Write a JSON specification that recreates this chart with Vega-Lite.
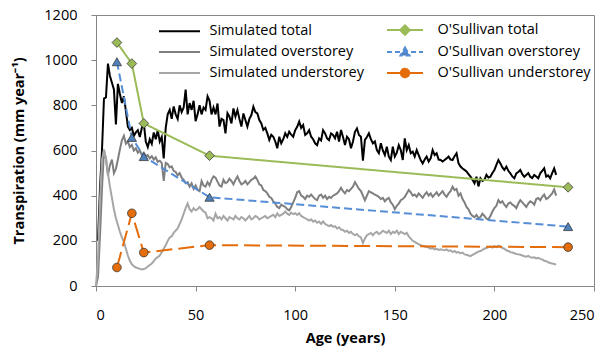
{
  "$schema": "https://vega.github.io/schema/vega-lite/v6.json",
  "width": 498,
  "height": 271,
  "autosize": {"type": "none"},
  "padding": {"left": 96, "top": 15, "right": 11, "bottom": 66},
  "background": "white",
  "config": {
    "font": "Open Sans",
    "view": {"stroke": "#868686", "strokeWidth": 1},
    "axis": {"grid": false, "domainColor": "#868686", "tickColor": "#868686", "tickSize": 5, "labelFont": "Open Sans", "labelFontSize": 14.5, "labelColor": "#000000", "titleFont": "Open Sans", "titleFontSize": 14.5, "titleFontWeight": "bold", "titleColor": "#000000"}
  },
  "datasets": {
    "sim": [
      {"age":0,"sim_over":0,"sim_under":0},
      {"age":1,"sim_total":200,"sim_over":40,"sim_under":120},
      {"age":2,"sim_total":430,"sim_over":220,"sim_under":380},
      {"age":3,"sim_total":600,"sim_over":430,"sim_under":560},
      {"age":4,"sim_total":830,"sim_over":600,"sim_under":605},
      {"age":5,"sim_total":835,"sim_over":565,"sim_under":560},
      {"age":6,"sim_total":985,"sim_over":490,"sim_under":500},
      {"age":7,"sim_total":930,"sim_over":535,"sim_under":440},
      {"age":8,"sim_total":900,"sim_over":560,"sim_under":390},
      {"age":9,"sim_total":870,"sim_over":500,"sim_under":340},
      {"age":10,"sim_total":715,"sim_over":520,"sim_under":300},
      {"age":11,"sim_total":895,"sim_over":560,"sim_under":270},
      {"age":12,"sim_total":850,"sim_over":605,"sim_under":240},
      {"age":13,"sim_total":810,"sim_over":645,"sim_under":215},
      {"age":14,"sim_total":840,"sim_over":665,"sim_under":195},
      {"age":15,"sim_total":775,"sim_over":630,"sim_under":165},
      {"age":16,"sim_total":705,"sim_over":640,"sim_under":135},
      {"age":17,"sim_total":690,"sim_over":615,"sim_under":112},
      {"age":18,"sim_total":700,"sim_over":625,"sim_under":96},
      {"age":19,"sim_total":665,"sim_over":600,"sim_under":88},
      {"age":20,"sim_total":680,"sim_over":610,"sim_under":82},
      {"age":21,"sim_total":690,"sim_over":590,"sim_under":79},
      {"age":22,"sim_total":660,"sim_over":600,"sim_under":76},
      {"age":23,"sim_total":700,"sim_over":580,"sim_under":73},
      {"age":24,"sim_total":720,"sim_over":590,"sim_under":75},
      {"age":25,"sim_total":640,"sim_over":575,"sim_under":79},
      {"age":26,"sim_total":615,"sim_over":580,"sim_under":86},
      {"age":27,"sim_total":650,"sim_over":565,"sim_under":93},
      {"age":28,"sim_total":630,"sim_over":575,"sim_under":100},
      {"age":29,"sim_total":680,"sim_over":560,"sim_under":110},
      {"age":30,"sim_total":650,"sim_over":570,"sim_under":122},
      {"age":31,"sim_total":690,"sim_over":550,"sim_under":128},
      {"age":32,"sim_total":640,"sim_over":555,"sim_under":135},
      {"age":33,"sim_total":660,"sim_over":545,"sim_under":150},
      {"age":34,"sim_total":565,"sim_over":465,"sim_under":165},
      {"age":35,"sim_total":700,"sim_over":545,"sim_under":180},
      {"age":36,"sim_total":760,"sim_over":540,"sim_under":200},
      {"age":37,"sim_total":780,"sim_over":525,"sim_under":215},
      {"age":38,"sim_total":740,"sim_over":530,"sim_under":220},
      {"age":39,"sim_total":795,"sim_over":510,"sim_under":235},
      {"age":40,"sim_total":760,"sim_over":505,"sim_under":245},
      {"age":41,"sim_total":740,"sim_over":490,"sim_under":255},
      {"age":42,"sim_total":800,"sim_over":500,"sim_under":275},
      {"age":43,"sim_total":770,"sim_over":480,"sim_under":295},
      {"age":44,"sim_total":790,"sim_over":470,"sim_under":320},
      {"age":45,"sim_total":870,"sim_over":455,"sim_under":345},
      {"age":46,"sim_total":760,"sim_over":460,"sim_under":365},
      {"age":47,"sim_total":810,"sim_over":440,"sim_under":340},
      {"age":48,"sim_total":780,"sim_over":455,"sim_under":330},
      {"age":49,"sim_total":820,"sim_over":430,"sim_under":345},
      {"age":50,"sim_total":730,"sim_over":445,"sim_under":335},
      {"age":51,"sim_total":760,"sim_over":425,"sim_under":340},
      {"age":52,"sim_total":800,"sim_over":420,"sim_under":350},
      {"age":53,"sim_total":760,"sim_over":465,"sim_under":340},
      {"age":54,"sim_total":790,"sim_over":445,"sim_under":330},
      {"age":55,"sim_total":780,"sim_over":440,"sim_under":325},
      {"age":56,"sim_total":840,"sim_over":460,"sim_under":300},
      {"age":57,"sim_total":820,"sim_over":445,"sim_under":305},
      {"age":58,"sim_total":760,"sim_over":470,"sim_under":300},
      {"age":59,"sim_total":790,"sim_over":485,"sim_under":290},
      {"age":60,"sim_total":760,"sim_over":480,"sim_under":320},
      {"age":61,"sim_total":808,"sim_over":462,"sim_under":300},
      {"age":62,"sim_total":706,"sim_over":445,"sim_under":305},
      {"age":63,"sim_total":740,"sim_over":440,"sim_under":295},
      {"age":64,"sim_total":735,"sim_over":470,"sim_under":310},
      {"age":65,"sim_total":676,"sim_over":455,"sim_under":300},
      {"age":66,"sim_total":765,"sim_over":460,"sim_under":290},
      {"age":67,"sim_total":750,"sim_over":475,"sim_under":305},
      {"age":68,"sim_total":720,"sim_over":465,"sim_under":300},
      {"age":69,"sim_total":786,"sim_over":450,"sim_under":295},
      {"age":70,"sim_total":750,"sim_over":470,"sim_under":310},
      {"age":71,"sim_total":779,"sim_over":485,"sim_under":300},
      {"age":72,"sim_total":740,"sim_over":465,"sim_under":295},
      {"age":73,"sim_total":706,"sim_over":450,"sim_under":305},
      {"age":74,"sim_total":764,"sim_over":455,"sim_under":300},
      {"age":75,"sim_total":735,"sim_over":465,"sim_under":290},
      {"age":76,"sim_total":706,"sim_over":450,"sim_under":300},
      {"age":77,"sim_total":740,"sim_over":460,"sim_under":310},
      {"age":78,"sim_total":757,"sim_over":470,"sim_under":295},
      {"age":79,"sim_total":794,"sim_over":475,"sim_under":300},
      {"age":80,"sim_total":770,"sim_over":485,"sim_under":310},
      {"age":81,"sim_total":764,"sim_over":470,"sim_under":305},
      {"age":82,"sim_total":735,"sim_over":450,"sim_under":295},
      {"age":83,"sim_total":720,"sim_over":445,"sim_under":300},
      {"age":84,"sim_total":691,"sim_over":425,"sim_under":305},
      {"age":85,"sim_total":700,"sim_over":420,"sim_under":310},
      {"age":86,"sim_total":676,"sim_over":410,"sim_under":300},
      {"age":87,"sim_total":647,"sim_over":395,"sim_under":305},
      {"age":88,"sim_total":670,"sim_over":390,"sim_under":310},
      {"age":89,"sim_total":661,"sim_over":375,"sim_under":315},
      {"age":90,"sim_total":640,"sim_over":365,"sim_under":305},
      {"age":91,"sim_total":610,"sim_over":350,"sim_under":322},
      {"age":92,"sim_total":661,"sim_over":345,"sim_under":310},
      {"age":93,"sim_total":632,"sim_over":360,"sim_under":315},
      {"age":94,"sim_total":650,"sim_over":355,"sim_under":320},
      {"age":95,"sim_total":676,"sim_over":350,"sim_under":330},
      {"age":96,"sim_total":660,"sim_over":340,"sim_under":320},
      {"age":97,"sim_total":683,"sim_over":335,"sim_under":315},
      {"age":98,"sim_total":670,"sim_over":350,"sim_under":325},
      {"age":99,"sim_total":661,"sim_over":370,"sim_under":318},
      {"age":100,"sim_total":690,"sim_over":390,"sim_under":322},
      {"age":101,"sim_total":705,"sim_over":415,"sim_under":315},
      {"age":102,"sim_total":728,"sim_over":420,"sim_under":322},
      {"age":103,"sim_total":700,"sim_over":400,"sim_under":310},
      {"age":104,"sim_total":713,"sim_over":395,"sim_under":305},
      {"age":105,"sim_total":669,"sim_over":385,"sim_under":300},
      {"age":106,"sim_total":676,"sim_over":400,"sim_under":295},
      {"age":107,"sim_total":690,"sim_over":395,"sim_under":290},
      {"age":108,"sim_total":661,"sim_over":405,"sim_under":295},
      {"age":109,"sim_total":650,"sim_over":395,"sim_under":285},
      {"age":110,"sim_total":632,"sim_over":385,"sim_under":290},
      {"age":111,"sim_total":624,"sim_over":380,"sim_under":280},
      {"age":112,"sim_total":654,"sim_over":400,"sim_under":285},
      {"age":113,"sim_total":645,"sim_over":405,"sim_under":275},
      {"age":114,"sim_total":690,"sim_over":390,"sim_under":286},
      {"age":115,"sim_total":676,"sim_over":400,"sim_under":275},
      {"age":116,"sim_total":654,"sim_over":385,"sim_under":270},
      {"age":117,"sim_total":646,"sim_over":395,"sim_under":265},
      {"age":118,"sim_total":676,"sim_over":390,"sim_under":270},
      {"age":119,"sim_total":669,"sim_over":400,"sim_under":262},
      {"age":120,"sim_total":654,"sim_over":405,"sim_under":265},
      {"age":121,"sim_total":683,"sim_over":410,"sim_under":255},
      {"age":122,"sim_total":640,"sim_over":420,"sim_under":260},
      {"age":123,"sim_total":691,"sim_over":435,"sim_under":250},
      {"age":124,"sim_total":660,"sim_over":420,"sim_under":248},
      {"age":125,"sim_total":624,"sim_over":410,"sim_under":240},
      {"age":126,"sim_total":661,"sim_over":425,"sim_under":245},
      {"age":127,"sim_total":650,"sim_over":420,"sim_under":235},
      {"age":128,"sim_total":610,"sim_over":430,"sim_under":240},
      {"age":129,"sim_total":640,"sim_over":440,"sim_under":230},
      {"age":130,"sim_total":683,"sim_over":460,"sim_under":225},
      {"age":131,"sim_total":698,"sim_over":445,"sim_under":230},
      {"age":132,"sim_total":669,"sim_over":430,"sim_under":220},
      {"age":133,"sim_total":661,"sim_over":420,"sim_under":215},
      {"age":134,"sim_total":555,"sim_over":400,"sim_under":190},
      {"age":135,"sim_total":647,"sim_over":380,"sim_under":210},
      {"age":136,"sim_total":660,"sim_over":400,"sim_under":225},
      {"age":137,"sim_total":676,"sim_over":420,"sim_under":230},
      {"age":138,"sim_total":650,"sim_over":415,"sim_under":235},
      {"age":139,"sim_total":632,"sim_over":410,"sim_under":225},
      {"age":140,"sim_total":640,"sim_over":405,"sim_under":235},
      {"age":141,"sim_total":602,"sim_over":400,"sim_under":240},
      {"age":142,"sim_total":588,"sim_over":395,"sim_under":230},
      {"age":143,"sim_total":632,"sim_over":385,"sim_under":235},
      {"age":144,"sim_total":600,"sim_over":390,"sim_under":245},
      {"age":145,"sim_total":580,"sim_over":375,"sim_under":240},
      {"age":146,"sim_total":617,"sim_over":385,"sim_under":235},
      {"age":147,"sim_total":573,"sim_over":390,"sim_under":245},
      {"age":148,"sim_total":558,"sim_over":370,"sim_under":230},
      {"age":149,"sim_total":617,"sim_over":360,"sim_under":240},
      {"age":150,"sim_total":573,"sim_over":340,"sim_under":235},
      {"age":151,"sim_total":590,"sim_over":355,"sim_under":245},
      {"age":152,"sim_total":624,"sim_over":365,"sim_under":230},
      {"age":153,"sim_total":602,"sim_over":380,"sim_under":240},
      {"age":154,"sim_total":558,"sim_over":385,"sim_under":235},
      {"age":155,"sim_total":654,"sim_over":395,"sim_under":230},
      {"age":156,"sim_total":602,"sim_over":410,"sim_under":235},
      {"age":157,"sim_total":624,"sim_over":425,"sim_under":220},
      {"age":158,"sim_total":588,"sim_over":415,"sim_under":210},
      {"age":159,"sim_total":595,"sim_over":400,"sim_under":200},
      {"age":160,"sim_total":573,"sim_over":405,"sim_under":195},
      {"age":161,"sim_total":602,"sim_over":395,"sim_under":190},
      {"age":162,"sim_total":580,"sim_over":410,"sim_under":185},
      {"age":163,"sim_total":558,"sim_over":400,"sim_under":180},
      {"age":164,"sim_total":543,"sim_over":390,"sim_under":178},
      {"age":165,"sim_total":560,"sim_over":405,"sim_under":175},
      {"age":166,"sim_total":573,"sim_over":415,"sim_under":172},
      {"age":167,"sim_total":551,"sim_over":400,"sim_under":170},
      {"age":168,"sim_total":565,"sim_over":410,"sim_under":165},
      {"age":169,"sim_total":602,"sim_over":395,"sim_under":168},
      {"age":170,"sim_total":580,"sim_over":405,"sim_under":162},
      {"age":171,"sim_total":588,"sim_over":415,"sim_under":165},
      {"age":172,"sim_total":560,"sim_over":400,"sim_under":160},
      {"age":173,"sim_total":558,"sim_over":410,"sim_under":163},
      {"age":174,"sim_total":551,"sim_over":420,"sim_under":160},
      {"age":175,"sim_total":558,"sim_over":405,"sim_under":158},
      {"age":176,"sim_total":565,"sim_over":395,"sim_under":162},
      {"age":177,"sim_total":573,"sim_over":410,"sim_under":155},
      {"age":178,"sim_total":560,"sim_over":420,"sim_under":158},
      {"age":179,"sim_total":558,"sim_over":440,"sim_under":150},
      {"age":180,"sim_total":575,"sim_over":425,"sim_under":155},
      {"age":181,"sim_total":588,"sim_over":430,"sim_under":148},
      {"age":182,"sim_total":543,"sim_over":400,"sim_under":150},
      {"age":183,"sim_total":529,"sim_over":410,"sim_under":145},
      {"age":184,"sim_total":520,"sim_over":385,"sim_under":148},
      {"age":185,"sim_total":514,"sim_over":370,"sim_under":140},
      {"age":186,"sim_total":507,"sim_over":350,"sim_under":138},
      {"age":187,"sim_total":495,"sim_over":340,"sim_under":135},
      {"age":188,"sim_total":484,"sim_over":320,"sim_under":132},
      {"age":189,"sim_total":470,"sim_over":310,"sim_under":138},
      {"age":190,"sim_total":455,"sim_over":305,"sim_under":142},
      {"age":191,"sim_total":484,"sim_over":315,"sim_under":148},
      {"age":192,"sim_total":441,"sim_over":300,"sim_under":152},
      {"age":193,"sim_total":477,"sim_over":305,"sim_under":155},
      {"age":194,"sim_total":465,"sim_over":320,"sim_under":160},
      {"age":195,"sim_total":470,"sim_over":310,"sim_under":165},
      {"age":196,"sim_total":492,"sim_over":298,"sim_under":168},
      {"age":197,"sim_total":480,"sim_over":295,"sim_under":172},
      {"age":198,"sim_total":484,"sim_over":310,"sim_under":175},
      {"age":199,"sim_total":500,"sim_over":330,"sim_under":170},
      {"age":200,"sim_total":514,"sim_over":345,"sim_under":176},
      {"age":201,"sim_total":536,"sim_over":355,"sim_under":172},
      {"age":202,"sim_total":558,"sim_over":380,"sim_under":178},
      {"age":203,"sim_total":543,"sim_over":368,"sim_under":175},
      {"age":204,"sim_total":525,"sim_over":375,"sim_under":168},
      {"age":205,"sim_total":514,"sim_over":360,"sim_under":165},
      {"age":206,"sim_total":529,"sim_over":350,"sim_under":158},
      {"age":207,"sim_total":510,"sim_over":365,"sim_under":155},
      {"age":208,"sim_total":499,"sim_over":370,"sim_under":150},
      {"age":209,"sim_total":485,"sim_over":360,"sim_under":148},
      {"age":210,"sim_total":477,"sim_over":355,"sim_under":145},
      {"age":211,"sim_total":499,"sim_over":345,"sim_under":142},
      {"age":212,"sim_total":505,"sim_over":365,"sim_under":140},
      {"age":213,"sim_total":514,"sim_over":380,"sim_under":138},
      {"age":214,"sim_total":495,"sim_over":370,"sim_under":135},
      {"age":215,"sim_total":484,"sim_over":360,"sim_under":132},
      {"age":216,"sim_total":492,"sim_over":350,"sim_under":130},
      {"age":217,"sim_total":500,"sim_over":365,"sim_under":133},
      {"age":218,"sim_total":484,"sim_over":375,"sim_under":128},
      {"age":219,"sim_total":478,"sim_over":370,"sim_under":125},
      {"age":220,"sim_total":492,"sim_over":360,"sim_under":127},
      {"age":221,"sim_total":485,"sim_over":385,"sim_under":122},
      {"age":222,"sim_total":477,"sim_over":390,"sim_under":125},
      {"age":223,"sim_total":499,"sim_over":380,"sim_under":120},
      {"age":224,"sim_total":510,"sim_over":395,"sim_under":118},
      {"age":225,"sim_total":521,"sim_over":405,"sim_under":112},
      {"age":226,"sim_total":484,"sim_over":385,"sim_under":110},
      {"age":227,"sim_total":490,"sim_over":390,"sim_under":105},
      {"age":228,"sim_total":477,"sim_over":400,"sim_under":102},
      {"age":229,"sim_total":500,"sim_over":410,"sim_under":100},
      {"age":230,"sim_total":521,"sim_over":428,"sim_under":97},
      {"age":231,"sim_total":492,"sim_over":400,"sim_under":95}
    ],
    "obs": [
      {"age":10.5,"os_total":1078,"os_over":993,"os_under":82},
      {"age":18,"os_total":985,"os_over":658,"os_under":322},
      {"age":24,"os_total":720,"os_over":573,"os_under":148},
      {"age":57,"os_total":577,"os_over":393,"os_under":181},
      {"age":237,"os_total":437,"os_over":263,"os_under":172}
    ]
  },
  "layer": [
    {
      "data": {"name": "sim"},
      "transform": [{"fold": ["sim_total", "sim_over", "sim_under"], "as": ["series", "value"]}],
      "mark": {"type": "line", "strokeWidth": 2, "interpolate": "linear"},
      "encoding": {
        "x": {"field": "age", "type": "quantitative", "scale": {"domain": [0, 250], "nice": false, "zero": false},
              "axis": {"values": [0, 50, 100, 150, 200, 250], "format": "d", "title": "Age (years)", "labelPadding": 17, "titlePadding": 10}},
        "y": {"field": "value", "type": "quantitative", "scale": {"domain": [0, 1200], "nice": false},
              "axis": {"values": [0, 200, 400, 600, 800, 1000, 1200], "format": "d", "title": "Transpiration (mm year⁻¹)", "labelPadding": 14, "titlePadding": 17}},
        "color": {
          "field": "series", "type": "nominal",
          "scale": {"domain": ["sim_total", "sim_over", "sim_under", "os_total", "os_over", "os_under"],
                    "range": ["#000000", "#7F7F7F", "#A6A6A6", "#9BBB59", "#558ED5", "#E46C0A"]},
          "legend": {
            "orient": "none", "legendX": 63, "legendY": 4, "columns": 2, "columnPadding": 19, "rowPadding": 2,
            "title": null, "padding": 0, "symbolSize": 400, "symbolStrokeWidth": 2, "symbolOffset": 9.5, "labelOffset": 19,
            "labelFont": "Open Sans", "labelFontSize": 14.5, "labelColor": "#000000", "labelLimit": 300,
            "labelExpr": "{'sim_total': 'Simulated total', 'os_total': \"O'Sullivan total\", 'sim_over': 'Simulated overstorey', 'os_over': \"O'Sullivan overstorey\", 'sim_under': 'Simulated understorey', 'os_under': \"O'Sullivan understorey\"}[datum.value]",
            "encode": {
              "symbols": {
                "update": {
                  "shape": {"signal": "datum.value == 'os_total' ? 'M-2.05,0H1.55M-0.25,-0.48L0.23,0L-0.25,0.48L-0.73,0Z' : datum.value == 'os_over' ? 'M-2.05,0H1.55M-0.25,-0.45L0.2,0.35L-0.7,0.35Z' : datum.value == 'os_under' ? 'M-2.05,0H1.55M0.17,0A0.42,0.42 0 1,1 -0.67,0A0.42,0.42 0 1,1 0.17,0Z' : 'M-2.05,0H2.05'"},
                  "fill": {"signal": "datum.value == 'os_total' ? '#9BBB59' : datum.value == 'os_over' ? '#4F81BD' : datum.value == 'os_under' ? '#E46C0A' : 'transparent'"},
                  "strokeDash": {"signal": "datum.value == 'os_over' ? [5, 3] : [1, 0]"},
                  "opacity": {"value": 1}
                }
              }
            }
          }
        }
      }
    },
    {
      "data": {"name": "obs"},
      "transform": [{"fold": ["os_total", "os_over", "os_under"], "as": ["series", "value"]}],
      "mark": {"type": "line", "strokeWidth": 2},
      "encoding": {
        "x": {"field": "age", "type": "quantitative"},
        "y": {"field": "value", "type": "quantitative"},
        "color": {"field": "series", "type": "nominal"},
        "strokeDash": {"field": "series", "type": "nominal",
                       "scale": {"domain": ["os_total", "os_over", "os_under"], "range": [[1, 0], [8, 4], [16, 6]]},
                       "legend": null}
      }
    },
    {
      "data": {"name": "obs"},
      "transform": [{"fold": ["os_total", "os_over", "os_under"], "as": ["series", "value"]}],
      "mark": {"type": "point", "filled": true, "opacity": 1, "stroke": "#3A3A3A", "strokeWidth": 0.8},
      "encoding": {
        "x": {"field": "age", "type": "quantitative"},
        "y": {"field": "value", "type": "quantitative"},
        "fill": {"field": "series", "type": "nominal",
                 "scale": {"domain": ["os_total", "os_over", "os_under"], "range": ["#9BBB59", "#4F81BD", "#E46C0A"]},
                 "legend": null},
        "shape": {"field": "series", "type": "nominal",
                  "scale": {"domain": ["os_total", "os_over", "os_under"], "range": ["diamond", "triangle-up", "circle"]},
                  "legend": null},
        "size": {"field": "series", "type": "nominal",
                 "scale": {"domain": ["os_total", "os_over", "os_under"], "range": [95, 75, 65]},
                 "legend": null}
      }
    }
  ],
  "resolve": {"scale": {"fill": "independent", "shape": "independent", "size": "independent", "strokeDash": "independent"}}
}
